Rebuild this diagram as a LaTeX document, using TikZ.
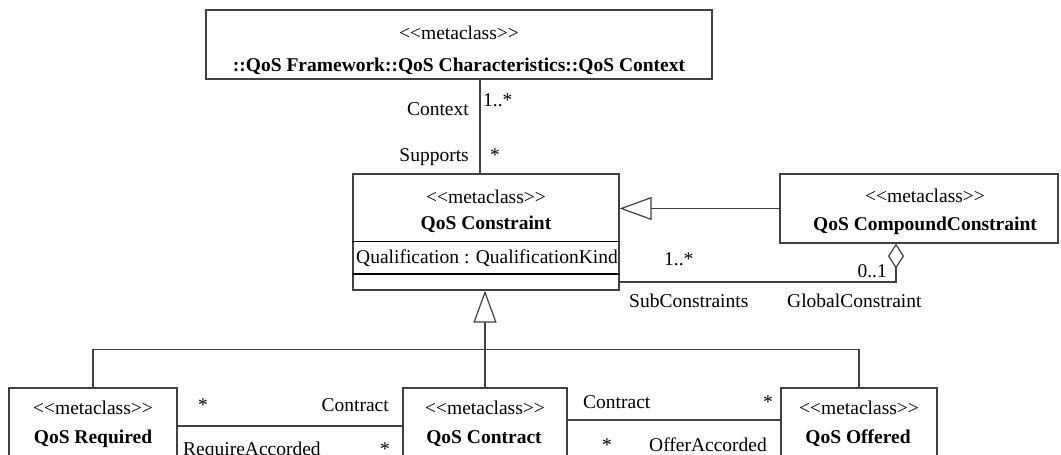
\documentclass[tikz,border=0pt]{standalone}
\usepackage{fontspec}
\setmainfont{Liberation Serif}
\usetikzlibrary{arrows.meta}

\newcommand{\metast}{<{}<metaclass>{}>}

\tikzset{
  classbox/.style={draw=black!75,line width=1.2pt,rectangle,inner sep=0pt},
  txt/.style={inner sep=0pt,anchor=base},
  conn/.style={draw=black!75,line width=1.2pt},
  compline/.style={draw=black,line width=1.5pt},
  inherit/.style={conn,-{Triangle[open,length=32pt,width=23pt]}},
  aggr/.style={conn,-{Diamond[open,length=25pt,width=16pt]}}
}

\begin{document}
\begin{tikzpicture}[x=1pt,y=-1pt,font=\fontsize{19.5}{23}\selectfont]
    \useasboundingbox (0,0) rectangle (1061,455);
    \clip (0,0) rectangle (1061,455);

    \node[classbox,minimum width=506pt,minimum height=69pt] (ctx) at (459,44.5) {};
    \node[txt] (ctxst) at (459,39) {\metast};
    \node[txt] (ctxnm) at (459,71) {\textbf{::QoS Framework::QoS Characteristics::QoS Context}};

    \node[classbox,minimum width=266pt,minimum height=116pt] (con) at (486,232) {};
    \node[txt] (const) at (486,203) {\metast};
    \node[txt] (connm) at (486,229) {\textbf{QoS Constraint}};
    \node[txt] (conat) at (487,263) {Qualification : QualificationKind};
    \draw[compline] (con.west |- 0,241.5) -- (con.east |- 0,241.5);
    \draw[compline] (con.west |- 0,274) -- (con.east |- 0,274);

    \node[classbox,minimum width=278pt,minimum height=69pt] (comp) at (919,208.5) {};
    \node[txt] (compst) at (925,202) {\metast};
    \node[txt] (compnm) at (925,230) {\textbf{QoS CompoundConstraint}};

    \node[classbox,minimum width=168pt,minimum height=100pt] (req) at (93,438) {};
    \node[txt] (reqst) at (93,414) {\metast};
    \node[txt] (reqnm) at (93,443) {\textbf{QoS Required}};

    \node[classbox,minimum width=164pt,minimum height=100pt] (ctr) at (485,438) {};
    \node[txt] (ctrst) at (485,414) {\metast};
    \node[txt] (ctrnm) at (484,443) {\textbf{QoS Contract}};

    \node[classbox,minimum width=156pt,minimum height=100pt] (off) at (859,438) {};
    \node[txt] (offst) at (859,414) {\metast};
    \node[txt] (offnm) at (858,443) {\textbf{QoS Offered}};

    \coordinate (supx) at (480,0);
    \coordinate (aggbend) at (896,282);

    \draw[conn] (ctx.south -| supx) -- (con.north -| supx);
    \draw[inherit] (comp.west) -- (comp.west -| con.east);
    \draw[aggr] (con.east |- aggbend) -- (aggbend) -- (aggbend |- comp.south);
    \draw[inherit] (ctr.north) -- (con.south -| ctr.north);
    \draw[conn] (req.north) -- ++(0,-38) -| (off.north);
    \draw[conn] (req.east |- 0,426) -- (ctr.west |- 0,426);
    \draw[conn] (ctr.east |- 0,420) -- (off.west |- 0,420);

    \node[txt,anchor=base east] (lctx) at (469,115) {Context};
    \node[txt,anchor=base west] (mctx) at (483,106) {1..*};
    \node[txt,anchor=base east] (lsup) at (469,161) {Supports};
    \node[txt] (msup) at (495,161) {*};
    \node[txt,anchor=base west] (msub) at (664,265) {1..*};
    \node[txt,anchor=base west] (lsub) at (629,307) {SubConstraints};
    \node[txt,anchor=base east] (mglob) at (887,277) {0..1};
    \node[txt,anchor=base west] (lglob) at (787,307) {GlobalConstraint};

    \node[txt] (mreq) at (203,411) {*};
    \node[txt,anchor=base east] (lreq) at (389,411) {Contract};
    \node[txt,anchor=base west] (lracc) at (183,455) {RequireAccorded};
    \node[txt] (mracc) at (385,455) {*};
    \node[txt,anchor=base west] (loff) at (583,408) {Contract};
    \node[txt] (moff) at (768,408) {*};
    \node[txt] (moacc) at (607,451) {*};
    \node[txt,anchor=base west] (loacc) at (649,451) {OfferAccorded};

  \end{tikzpicture}
\end{document}
